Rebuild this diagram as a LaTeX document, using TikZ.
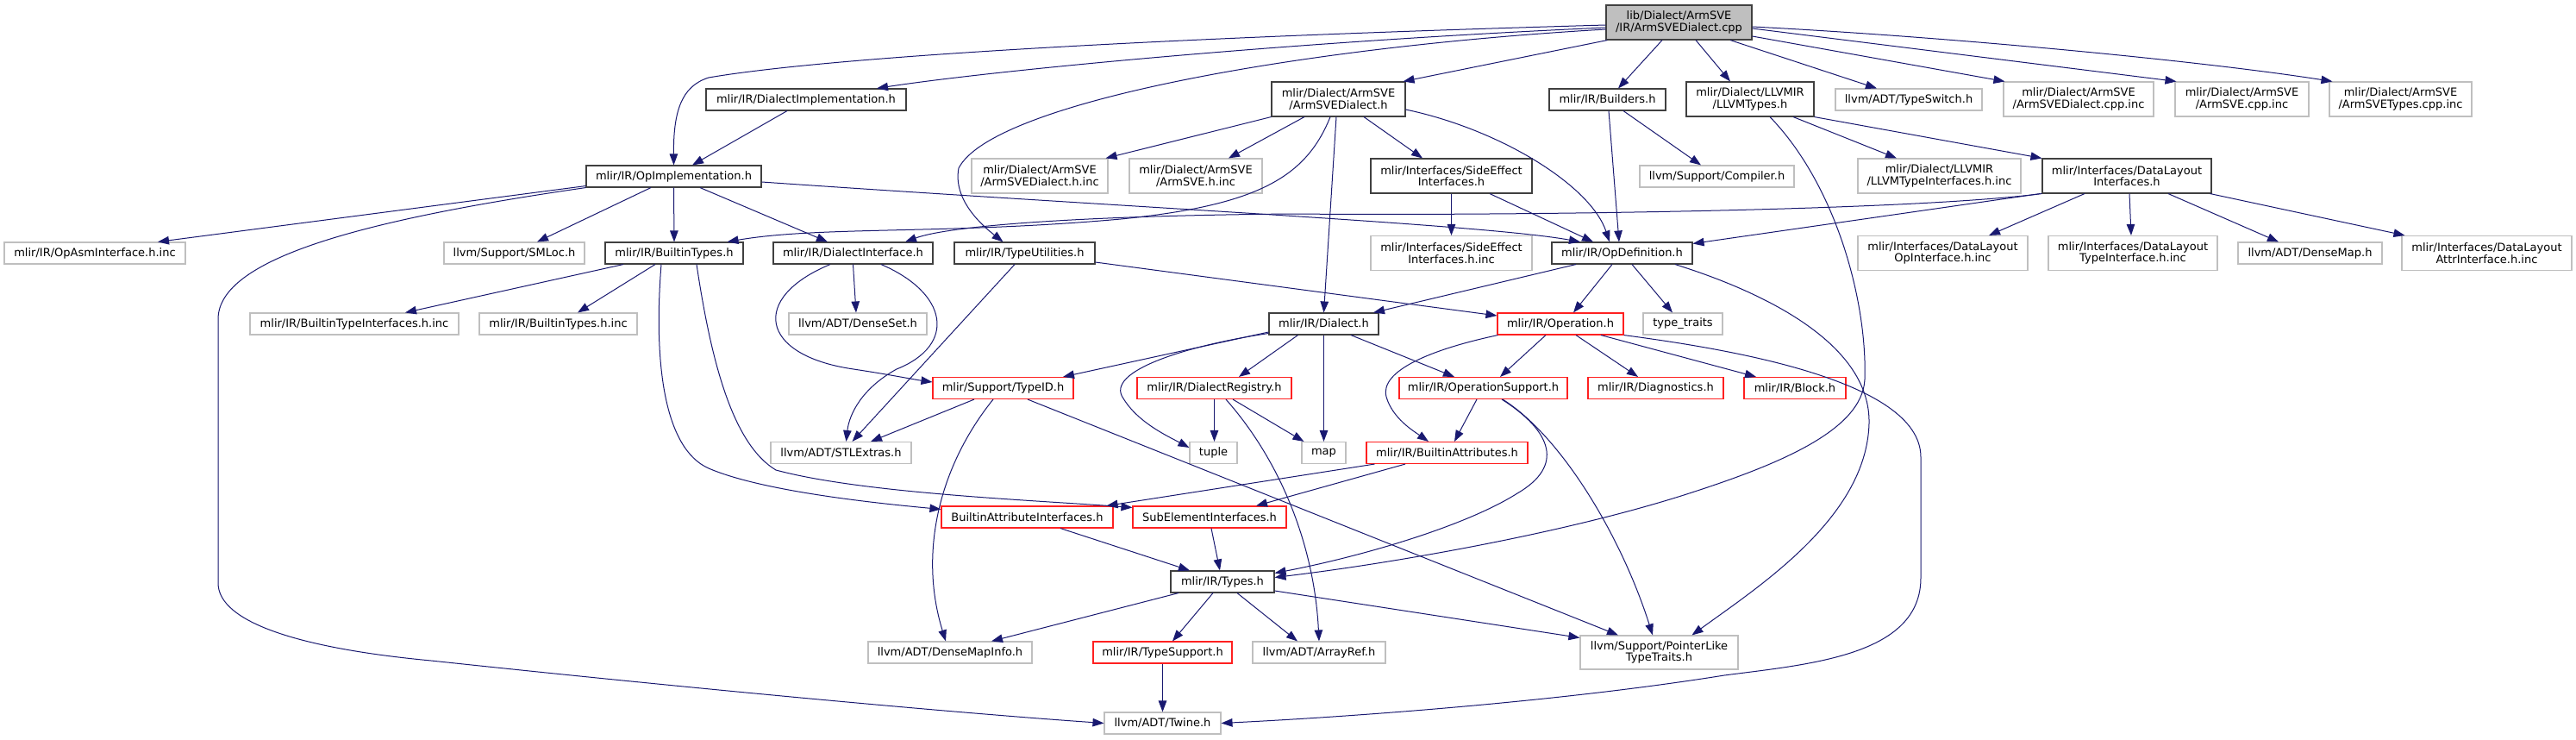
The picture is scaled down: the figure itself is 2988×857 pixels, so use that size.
\documentclass[tikz,border=0pt]{standalone}
\usepackage{fontspec}
\newfontfamily\dvsfam{DejaVu Sans}
\usetikzlibrary{arrows.meta}
\definecolor{edgec}{HTML}{191970}
\definecolor{grayb}{HTML}{BFBFBF}
\definecolor{darkb}{HTML}{404040}
\definecolor{redb}{HTML}{FF2020}
\definecolor{rootf}{HTML}{BFBFBF}
\newcommand\nodetxt{\dvsfam\fontsize{13pt}{13.5pt}\selectfont}
\begin{document}
\begin{tikzpicture}[x=1pt,y=-1pt,
  nd/.style={draw, line width=1.1pt, inner sep=0pt, align=center, minimum height=25pt, font=\nodetxt, text=black},
  blk/.style={nd, draw=darkb},
  gry/.style={nd, draw=grayb},
  rd/.style={nd, draw=redb},
  two/.style={minimum height=40pt},
  e/.style={draw=edgec, line width=1pt, -{Triangle[length=13pt,width=9.5pt]}}]
\fill[white] (0,0) rectangle (2988,857);
\useasboundingbox (0,0) rectangle (2988,857);

% row 1
\node[blk, two, fill=rootf, minimum width=169pt] (root) at (1947.5,26) {lib/Dialect/ArmSVE\\/IR/ArmSVEDialect.cpp};
% row 2
\node[blk, minimum width=232pt] (dimpl) at (935,115.5) {mlir/IR/DialectImplementation.h};
\node[blk, two, minimum width=155pt] (asvedh) at (1552.5,115) {mlir/Dialect/ArmSVE\\/ArmSVEDialect.h};
\node[blk, minimum width=135pt] (builders) at (1864.5,115.5) {mlir/IR/Builders.h};
\node[blk, two, minimum width=148pt] (llvmtypes) at (2030,115) {mlir/Dialect/LLVMIR\\/LLVMTypes.h};
\node[gry, minimum width=170pt] (typeswitch) at (2214,115.5) {llvm/ADT/TypeSwitch.h};
\node[gry, two, minimum width=174pt] (dcppinc) at (2411,115) {mlir/Dialect/ArmSVE\\/ArmSVEDialect.cpp.inc};
\node[gry, two, minimum width=155pt] (svecppinc) at (2600.5,115) {mlir/Dialect/ArmSVE\\/ArmSVE.cpp.inc};
\node[gry, two, minimum width=165pt] (typescppinc) at (2784.5,115) {mlir/Dialect/ArmSVE\\/ArmSVETypes.cpp.inc};
% row 3
\node[blk, minimum width=203pt] (opimpl) at (781.5,204.5) {mlir/IR/OpImplementation.h};
\node[gry, two, minimum width=158pt] (dhinc) at (1206,204) {mlir/Dialect/ArmSVE\\/ArmSVEDialect.h.inc};
\node[gry, two, minimum width=154pt] (svehinc) at (1387,204) {mlir/Dialect/ArmSVE\\/ArmSVE.h.inc};
\node[blk, two, minimum width=187pt] (sideeff) at (1683.5,204) {mlir/Interfaces/SideEffect\\Interfaces.h};
\node[gry, minimum width=179pt] (compiler) at (1991.5,204.5) {llvm/Support/Compiler.h};
\node[gry, two, minimum width=189pt] (llvmtiinc) at (2249.5,204) {mlir/Dialect/LLVMIR\\/LLVMTypeInterfaces.h.inc};
\node[blk, two, minimum width=196pt] (dlif) at (2467,204) {mlir/Interfaces/DataLayout\\Interfaces.h};
% row 4
\node[gry, minimum width=210pt] (opasm) at (110,293.5) {mlir/IR/OpAsmInterface.h.inc};
\node[gry, minimum width=163pt] (smloc) at (596.5,293.5) {llvm/Support/SMLoc.h};
\node[blk, minimum width=160pt] (btypes) at (782,293.5) {mlir/IR/BuiltinTypes.h};
\node[blk, minimum width=185pt] (dialif) at (989.5,293.5) {mlir/IR/DialectInterface.h};
\node[blk, minimum width=163pt] (typeutil) at (1188.5,293.5) {mlir/IR/TypeUtilities.h};
\node[gry, two, minimum width=187pt] (sideeffinc) at (1683.5,293.5) {mlir/Interfaces/SideEffect\\Interfaces.h.inc};
\node[blk, minimum width=163pt] (opdef) at (1881.5,293.5) {mlir/IR/OpDefinition.h};
\node[gry, two, minimum width=197pt] (dlopinc) at (2253.5,293.5) {mlir/Interfaces/DataLayout\\OpInterface.h.inc};
\node[gry, two, minimum width=196pt] (dltypeinc) at (2474,293.5) {mlir/Interfaces/DataLayout\\TypeInterface.h.inc};
\node[gry, minimum width=167pt] (densemap) at (2679.5,293.5) {llvm/ADT/DenseMap.h};
\node[gry, two, minimum width=197pt] (dlattrinc) at (2884.5,293.5) {mlir/Interfaces/DataLayout\\AttrInterface.h.inc};
% row 5
\node[gry, minimum width=242pt] (btiinc) at (411,375.5) {mlir/IR/BuiltinTypeInterfaces.h.inc};
\node[gry, minimum width=183pt] (btinc) at (647.5,375.5) {mlir/IR/BuiltinTypes.h.inc};
\node[gry, minimum width=160pt] (denseset) at (995,375.5) {llvm/ADT/DenseSet.h};
\node[blk, minimum width=127pt] (dialect) at (1535.5,375.5) {mlir/IR/Dialect.h};
\node[rd, minimum width=146pt] (operation) at (1810,375.5) {mlir/IR/Operation.h};
\node[gry, minimum width=92pt] (typetraits) at (1952,375.5) {type\_traits};
% row 6
\node[rd, minimum width=163pt] (typeid) at (1163.5,450) {mlir/Support/TypeID.h};
\node[rd, minimum width=179pt] (dreg) at (1408.5,450) {mlir/IR/DialectRegistry.h};
\node[rd, minimum width=195pt] (opsupport) at (1720.5,450) {mlir/IR/OperationSupport.h};
\node[rd, minimum width=157pt] (diag) at (1920.5,450) {mlir/IR/Diagnostics.h};
\node[rd, minimum width=118pt] (block) at (2082,450) {mlir/IR/Block.h};
% row 7
\node[gry, minimum width=163pt] (stlextras) at (975.5,525) {llvm/ADT/STLExtras.h};
\node[gry, minimum width=55pt] (tuple) at (1407.5,525) {tuple};
\node[gry, minimum width=51pt] (map) at (1535.5,525) {map};
\node[rd, minimum width=187pt] (battrs) at (1678.5,525) {mlir/IR/BuiltinAttributes.h};
% row 8
\node[rd, minimum width=199pt] (bai) at (1191.5,599.5) {BuiltinAttributeInterfaces.h};
\node[rd, minimum width=178pt] (subel) at (1403,599.5) {SubElementInterfaces.h};
% row 9
\node[blk, minimum width=120pt] (types) at (1418,674.5) {mlir/IR/Types.h};
% row 10
\node[gry, minimum width=190pt] (densemapinfo) at (1102,756.5) {llvm/ADT/DenseMapInfo.h};
\node[rd, minimum width=161pt] (typesupport) at (1348.5,756.5) {mlir/IR/TypeSupport.h};
\node[gry, minimum width=154pt] (arrayref) at (1530,756.5) {llvm/ADT/ArrayRef.h};
\node[gry, two, minimum width=183pt, minimum height=39pt] (plike) at (1924.5,756.5) {llvm/Support/PointerLike\\TypeTraits.h};
% row 11
\node[gry, minimum width=135pt] (twine) at (1348.5,838.5) {llvm/ADT/Twine.h};

% ---- edges: root
\draw[e] ([yshift=-3pt]root.west) .. controls (1300,45) and (950,68) .. (822,90) .. controls (790,100) and (781,130) .. (opimpl.north);
\draw[e] ([yshift=-6pt]root.west) .. controls (1500,48) and (1150,82) .. ([xshift=82pt]dimpl.north);
\draw[e] ([yshift=-8pt]root.west) .. controls (1500,55) and (1150,120) .. (1112,195) .. controls (1105,232) and (1140,262) .. ([xshift=-25pt]typeutil.north);
\draw[e] ([xshift=2pt]root.south west) -- ([xshift=-3pt]asvedh.north east);
\draw[e] ([xshift=-19.5pt]root.south) -- ([xshift=12.5pt]builders.north);
\draw[e] ([xshift=19.5pt]root.south) -- ([xshift=-23pt]llvmtypes.north);
\draw[e] ([xshift=59.5pt]root.south) -- ([xshift=-37pt]typeswitch.north);
\draw[e] ([yshift=-16pt]root.east) -- ([xshift=2pt]dcppinc.north west);
\draw[e] ([yshift=-7pt]root.east) -- ([xshift=2pt]svecppinc.north west);
\draw[e] ([yshift=-5pt]root.east) .. controls (2250,42) and (2550,70) .. ([xshift=4pt]typescppinc.north west);
% DialectImplementation
\draw[e] ([xshift=-22pt]dimpl.south) -- ([xshift=21.5pt]opimpl.north);
% OpImplementation
\draw[e] ([yshift=2pt]opimpl.south west) -- ([xshift=73pt]opasm.north);
\draw[e] (opimpl.south west) .. controls (420,255) and (253,300) .. (253,370) -- (253,676) .. controls (253,722) and (350,752) .. (500,766) .. controls (800,798) and (1100,826) .. (twine.west);
\draw[e] ([xshift=-26.5pt]opimpl.south) -- ([xshift=26.5pt]smloc.north);
\draw[e] (opimpl.south) -- (btypes.north);
\draw[e] ([xshift=30.5pt]opimpl.south) -- ([xshift=-29.5pt]dialif.north);
\draw[e] ([yshift=-6.5pt]opimpl.east) .. controls (1300,240) and (1720,260) .. ([xshift=-48.5pt]opdef.north);
% ArmSVEDialect.h
\draw[e] (asvedh.south west) -- ([xshift=-3pt]dhinc.north east);
\draw[e] ([xshift=-39.5pt]asvedh.south) -- ([xshift=38pt]svehinc.north);
\draw[e] ([xshift=-9.5pt]asvedh.south) .. controls (1515,205) and (1460,238) .. (1300,254) .. controls (1100,272) and (950,262) .. ([xshift=-19pt]btypes.north east);
\draw[e] ([xshift=-2.5pt]asvedh.south) -- (dialect.north);
\draw[e] ([xshift=29.5pt]asvedh.south) -- ([xshift=-33.5pt]sideeff.north);
\draw[e] ([yshift=-12pt]asvedh.east) .. controls (1740,150) and (1845,215) .. ([xshift=-14.5pt]opdef.north);
% Builders
\draw[e] ([xshift=1.5pt]builders.south) -- ([xshift=-3.5pt]opdef.north);
\draw[e] ([xshift=18.5pt]builders.south) -- ([xshift=-18.5pt]compiler.north);
% LLVMTypes
\draw[e] ([xshift=50pt]llvmtypes.south) -- ([xshift=-49.5pt]llvmtiinc.north);
\draw[e] (llvmtypes.south east) -- (dlif.north west);
\draw[e] ([xshift=23pt]llvmtypes.south) .. controls (2130,215) and (2166,350) .. (2163,440) .. controls (2160,500) and (2060,540) .. (1950,575) .. controls (1800,622) and (1600,655) .. ([yshift=5pt]types.east);
% SideEffectInterfaces
\draw[e] (sideeff.south) -- (sideeffinc.north);
\draw[e] ([xshift=44.5pt]sideeff.south) -- ([xshift=-33.5pt]opdef.north);
% DataLayoutInterfaces
\draw[e] (dlif.south west) .. controls (2200,246) and (1700,250) .. (1500,248) .. controls (1250,250) and (1100,262) .. ([xshift=60.5pt]dialif.north);
\draw[e] ([xshift=-2pt]dlif.south west) -- ([yshift=-2pt]opdef.north east);
\draw[e] ([xshift=-49pt]dlif.south) -- ([xshift=53.5pt]dlopinc.north);
\draw[e] ([xshift=3pt]dlif.south) -- ([xshift=-2pt]dltypeinc.north);
\draw[e] ([xshift=48pt]dlif.south) -- ([xshift=-36.5pt]densemap.north);
\draw[e] ([xshift=-2pt]dlif.south east) -- ([xshift=4pt]dlattrinc.north west);
% BuiltinTypes
\draw[e] ([xshift=-59pt]btypes.south) -- ([xshift=59pt]btiinc.north);
\draw[e] ([xshift=-22pt]btypes.south) -- ([xshift=22.5pt]btinc.north);
\draw[e] ([xshift=-15pt]btypes.south) .. controls (758,420) and (770,520) .. (822,543) .. controls (880,568) and (1000,582) .. ([yshift=-4pt]bai.north west);
\draw[e] ([xshift=26pt]btypes.south) .. controls (825,420) and (850,515) .. (900,545) .. controls (1000,572) and (1200,580) .. ([yshift=-2pt]subel.north west);
% DialectInterface
\draw[e] (dialif.south) -- ([xshift=-2pt]denseset.north);
\draw[e] ([xshift=-26.5pt]dialif.south) .. controls (870,345) and (880,412) .. (990,428) .. controls (1030,434) and (1060,440) .. ([yshift=7pt]typeid.west);
\draw[e] ([xshift=32.5pt]dialif.south) .. controls (1100,340) and (1110,400) .. (1040,428) .. controls (1000,450) and (985,480) .. ([xshift=6pt]stlextras.north);
% TypeUtilities
\draw[e] ([xshift=-11.5pt]typeutil.south) -- ([xshift=13pt]stlextras.north);
\draw[e] ([yshift=-10.5pt]typeutil.east) -- ([yshift=9.5pt]operation.west);
% OpDefinition
\draw[e] ([xshift=-53.5pt]opdef.south) -- ([xshift=57.5pt]dialect.north);
\draw[e] ([xshift=-11.5pt]opdef.south) -- ([xshift=15pt]operation.north);
\draw[e] ([xshift=11.5pt]opdef.south) -- ([xshift=-12pt]typetraits.north);
\draw[e] ([xshift=61.5pt]opdef.south) .. controls (2050,340) and (2170,400) .. (2168,491) .. controls (2165,600) and (2040,680) .. ([xshift=38pt]plike.north);
% TypeID
\draw[e] ([xshift=-33.5pt]typeid.south) -- ([xshift=34.5pt]stlextras.north);
\draw[e] ([xshift=-11.5pt]typeid.south) .. controls (1090,540) and (1065,640) .. ([xshift=-5pt]densemapinfo.north);
\draw[e] ([xshift=28.5pt]typeid.south) -- ([xshift=-47.5pt]plike.north);
% Dialect
\draw[e] ([yshift=-9.5pt]dialect.west) -- ([xshift=69.5pt]typeid.north);
\draw[e] ([yshift=-11pt]dialect.west) .. controls (1380,400) and (1280,430) .. (1303,462) .. controls (1320,490) and (1355,506) .. ([yshift=6pt]tuple.west);
\draw[e] ([xshift=-30pt]dialect.south) -- ([xshift=28.5pt]dreg.north);
\draw[e] (dialect.south) -- (map.north);
\draw[e] ([xshift=31.5pt]dialect.south) -- ([xshift=-33.5pt]opsupport.north);
% Operation
\draw[e] ([xshift=1pt]operation.south west) .. controls (1660,405) and (1600,430) .. (1608,460) .. controls (1615,485) and (1640,500) .. ([xshift=-21.5pt]battrs.north);
\draw[e] ([xshift=-17pt]operation.south) -- ([xshift=19.5pt]opsupport.north);
\draw[e] ([xshift=18pt]operation.south) -- ([xshift=-20.5pt]diag.north);
\draw[e] ([xshift=47pt]operation.south) -- ([xshift=-45pt]block.north);
\draw[e] (operation.south east) .. controls (2000,404) and (2228,440) .. (2228,530) -- (2228,670) .. controls (2228,760) and (2100,770) .. (2000,783) .. controls (1800,815) and (1550,832) .. (twine.east);
% OperationSupport
\draw[e] ([xshift=-7.5pt]opsupport.south) -- ([xshift=8.5pt]battrs.north);
\draw[e] ([xshift=21.5pt]opsupport.south) .. controls (1800,500) and (1815,540) .. (1760,572) .. controls (1700,610) and (1580,645) .. ([yshift=10pt]types.east);
\draw[e] ([xshift=22.5pt]opsupport.south) .. controls (1810,505) and (1880,620) .. ([xshift=-7.5pt]plike.north);
% DialectRegistry
\draw[e] (dreg.south) -- ([xshift=1pt]tuple.north);
\draw[e] ([xshift=21.5pt]dreg.south) -- ([xshift=3pt]map.north west);
\draw[e] ([xshift=13.5pt]dreg.south) .. controls (1490,540) and (1525,640) .. (arrayref.north);
% BuiltinAttributes
\draw[e] ([xshift=10pt]battrs.south west) -- ([xshift=-8pt]bai.north east);
\draw[e] ([xshift=-48.5pt]battrs.south) -- ([xshift=54pt]subel.north);
% BuiltinAttributeInterfaces, SubElementInterfaces
\draw[e] ([xshift=38.5pt]bai.south) -- ([xshift=-38pt]types.north);
\draw[e] ([xshift=2pt]subel.south) -- ([xshift=-3pt]types.north);
% Types
\draw[e] ([xshift=-51pt]types.south) -- ([xshift=48pt]densemapinfo.north);
\draw[e] ([xshift=-11pt]types.south) -- ([xshift=11.5pt]typesupport.north);
\draw[e] ([xshift=17pt]types.south) -- ([xshift=-25pt]arrayref.north);
\draw[e] ([yshift=-10.5pt]types.east) -- ([yshift=-3pt]plike.north west);
% TypeSupport
\draw[e] (typesupport.south) -- (twine.north);
\end{tikzpicture}
\end{document}
